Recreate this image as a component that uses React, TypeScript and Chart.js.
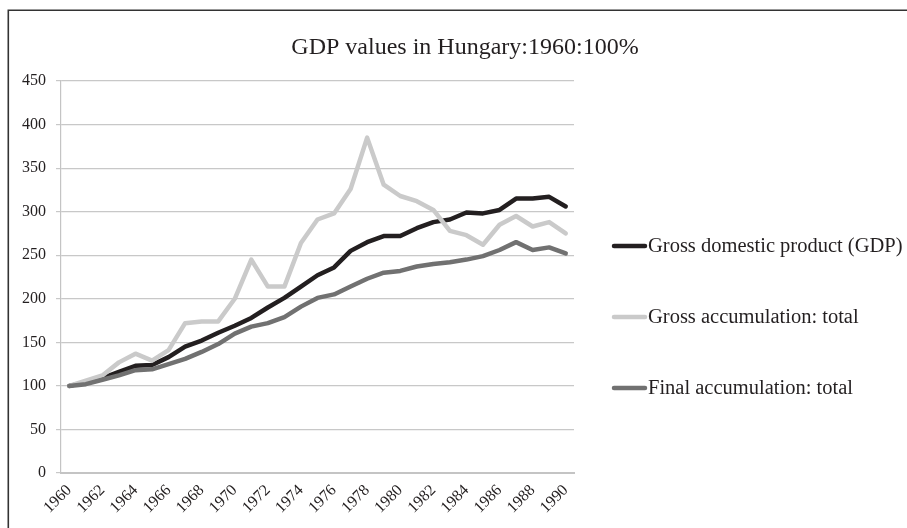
import React, { useEffect, useRef } from "react";
import { Chart, registerables } from "chart.js";

Chart.register(...registerables);

const TITLE = "GDP values in Hungary:1960:100%";

const YEARS = [
  "1960", "1961", "1962", "1963", "1964", "1965", "1966", "1967", "1968", "1969",
  "1970", "1971", "1972", "1973", "1974", "1975", "1976", "1977", "1978", "1979",
  "1980", "1981", "1982", "1983", "1984", "1985", "1986", "1987", "1988", "1989",
  "1990",
];

const SERIES_NAMES = [
  "Gross domestic product (GDP)",
  "Gross accumulation: total",
  "Final accumulation: total",
];

const GDP = [
  100, 104, 109, 116, 123, 124, 133, 145, 152, 161,
  169, 178, 190, 201, 214, 227, 236, 255, 265, 272,
  272, 281, 288, 291, 299, 298, 302, 315, 315, 317,
  306,
];

const GROSS_ACCUMULATION = [
  100, 106, 112, 127, 137, 129, 141, 172, 174, 174,
  200, 245, 214, 214, 264, 291, 298, 326, 385, 331,
  318, 312, 302, 278, 273, 262, 285, 295, 283, 288,
  275,
];

const FINAL_ACCUMULATION = [
  100, 102, 107, 112, 118, 119, 125, 131, 139, 148,
  160, 168, 172, 179, 191, 201, 205, 214, 223, 230,
  232, 237, 240, 242, 245, 249, 256, 265, 256, 259,
  252,
];

const Y_MIN = 0;
const Y_MAX = 450;
const Y_STEP = 50;

const COLORS = ["#231f20", "#cacaca", "#717171"];
const FONT = "'Liberation Serif', 'Times New Roman', serif";

const decorPlugin = {
  id: "decor",
  beforeDraw(chart: any) {
    const { ctx, width, height } = chart;
    ctx.save();
    ctx.fillStyle = "#ffffff";
    ctx.fillRect(0, 0, width, height);
    ctx.strokeStyle = "#333333";
    ctx.lineWidth = 1.6;
    ctx.beginPath();
    ctx.moveTo(8.3, height);
    ctx.lineTo(8.3, 10.3);
    ctx.lineTo(width, 10.3);
    ctx.stroke();
    ctx.restore();
  },
  afterDraw(chart: any) {
    const { ctx } = chart;
    ctx.save();
    // title
    ctx.fillStyle = "#231f20";
    ctx.font = `24px ${FONT}`;
    ctx.textAlign = "center";
    ctx.textBaseline = "middle";
    ctx.fillText(TITLE, 465, 48);
    // legend
    ctx.font = `20.5px ${FONT}`;
    ctx.textAlign = "left";
    chart.data.datasets.forEach((ds: any, i: number) => {
      const y = 246 + i * 71;
      ctx.strokeStyle = ds.borderColor;
      ctx.lineWidth = 4.5;
      ctx.lineCap = "round";
      ctx.beginPath();
      ctx.moveTo(614, y);
      ctx.lineTo(645, y);
      ctx.stroke();
      ctx.fillStyle = "#231f20";
      ctx.fillText(ds.label, 648, y + 1);
    });
    ctx.restore();
  },
};

export default function App() {
  const canvasRef = useRef<HTMLCanvasElement | null>(null);

  useEffect(() => {
    const canvas = canvasRef.current;
    if (!canvas) return;
    const seriesData = [GDP, GROSS_ACCUMULATION, FINAL_ACCUMULATION];
    const chart = new Chart(canvas, {
      type: "line",
      data: {
        labels: YEARS,
        datasets: seriesData.map((d, i) => ({
          label: SERIES_NAMES[i],
          data: d,
          borderColor: COLORS[i],
          backgroundColor: COLORS[i],
          borderWidth: 4.5,
          pointRadius: 0,
          pointHoverRadius: 0,
          tension: 0,
          borderCapStyle: "round" as const,
          borderJoinStyle: "round" as const,
          fill: false,
          order: 2 - i,
        })),
      },
      options: {
        animation: false,
        responsive: false,
        maintainAspectRatio: false,
        devicePixelRatio: 1,
        layout: { padding: { left: 0, top: 81, right: 333, bottom: 0 } },
        plugins: {
          legend: { display: false },
          title: { display: false },
          tooltip: { enabled: false },
        },
        scales: {
          x: {
            type: "category",
            offset: true,
            grid: { display: false, drawTicks: false },
            border: { display: true, color: "#c4c4c4", width: 2 },
            ticks: {
              autoSkip: false,
              minRotation: 45,
              maxRotation: 45,
              padding: 8,
              color: "#231f20",
              font: { family: FONT, size: 16 },
              callback: (_v: any, i: number) => (i % 2 === 0 ? YEARS[i] : ""),
            },
            afterFit: (s: any) => {
              s.height = 55;
            },
          },
          y: {
            min: Y_MIN,
            max: Y_MAX,
            grid: {
              color: "#c8c8c8",
              lineWidth: 1.2,
              drawTicks: true,
              tickLength: 5,
            },
            border: { display: true, color: "#c4c4c4", width: 1.2 },
            ticks: {
              stepSize: Y_STEP,
              padding: 10,
              color: "#231f20",
              font: { family: FONT, size: 16 },
            },
            afterFit: (s: any) => {
              s.width = 61;
            },
          },
        },
      },
      plugins: [decorPlugin],
    });
    return () => chart.destroy();
  }, []);

  return (
    <div style={{ position: "absolute", left: 0, top: 0, width: 907, height: 528 }}>
      <canvas ref={canvasRef} width={907} height={528} style={{ display: "block" }} />
    </div>
  );
}
